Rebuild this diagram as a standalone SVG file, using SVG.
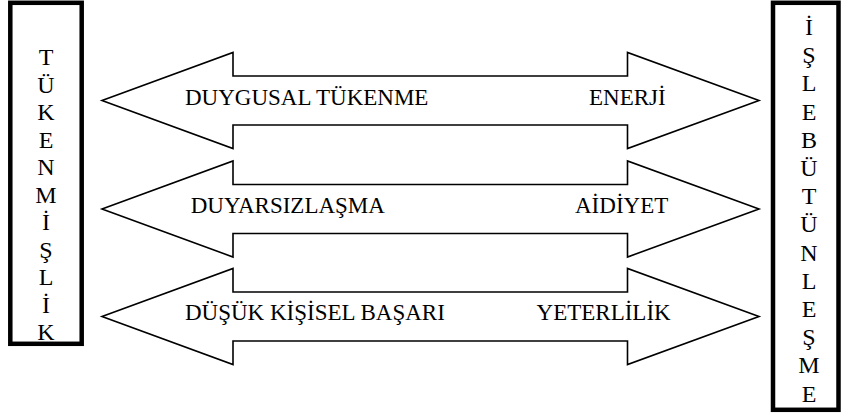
<svg xmlns="http://www.w3.org/2000/svg" width="841" height="418" viewBox="0 0 841 418">
<defs>
<polygon id="dblArrow" fill="#fff" stroke="#000" stroke-width="1.6" stroke-linejoin="miter" points="102,0 233,-48 233,-24.5 627.5,-24.5 627.5,-48 759,0 627.5,48 627.5,24.5 233,24.5 233,48"/>
</defs>
<rect width="841" height="418" fill="#fff"/>
<g id="tukenmislik">
<rect fill="#fff" stroke="#000" stroke-width="4.5" x="10.3" y="2.8" width="71.4" height="341"/>
<text font-family="Tinos, 'Liberation Serif', serif" font-size="24" text-anchor="middle"><tspan x="46" y="65">T</tspan><tspan x="46" y="92.5">Ü</tspan><tspan x="46" y="120">K</tspan><tspan x="46" y="147.5">E</tspan><tspan x="46" y="175">N</tspan><tspan x="46" y="202.5">M</tspan><tspan x="46" y="230">İ</tspan><tspan x="46" y="257.5">Ş</tspan><tspan x="46" y="285">L</tspan><tspan x="46" y="312.5">İ</tspan><tspan x="46" y="340">K</tspan></text>
</g>
<g id="isle-butunlesme">
<rect fill="#fff" stroke="#000" stroke-width="4.5" x="773" y="2.8" width="65.5" height="407"/>
<text font-family="Tinos, 'Liberation Serif', serif" font-size="24" text-anchor="middle"><tspan x="809" y="35">İ</tspan><tspan x="809" y="63.2">Ş</tspan><tspan x="809" y="91.4">L</tspan><tspan x="809" y="119.6">E</tspan><tspan x="809" y="147.8">B</tspan><tspan x="809" y="176">Ü</tspan><tspan x="809" y="204.2">T</tspan><tspan x="809" y="232.4">Ü</tspan><tspan x="809" y="260.6">N</tspan><tspan x="809" y="288.8">L</tspan><tspan x="809" y="317">E</tspan><tspan x="809" y="345.2">Ş</tspan><tspan x="809" y="373.4">M</tspan><tspan x="809" y="401.6">E</tspan></text>
</g>
<g id="connectors">
<g id="arrow1">
<use href="#dblArrow" transform="translate(0,100.5)"/>
<text font-family="Tinos, 'Liberation Serif', serif" font-size="23" x="185" y="105">DUYGUSAL TÜKENME</text>
<text font-family="Tinos, 'Liberation Serif', serif" font-size="23" x="589" y="105">ENERJİ</text>
</g>
<g id="arrow2">
<use href="#dblArrow" transform="translate(0,209)"/>
<text font-family="Tinos, 'Liberation Serif', serif" font-size="23" x="190.7" y="212.5">DUYARSIZLAŞMA</text>
<text font-family="Tinos, 'Liberation Serif', serif" font-size="23" x="575" y="212.5">AİDİYET</text>
</g>
<g id="arrow3">
<use href="#dblArrow" transform="translate(0,316.5)"/>
<text font-family="Tinos, 'Liberation Serif', serif" font-size="23" x="185" y="320">DÜŞÜK KİŞİSEL BAŞARI</text>
<text font-family="Tinos, 'Liberation Serif', serif" font-size="23" x="670.7" y="320" text-anchor="end">YETERLİLİK</text>
</g>
</g>
</svg>
